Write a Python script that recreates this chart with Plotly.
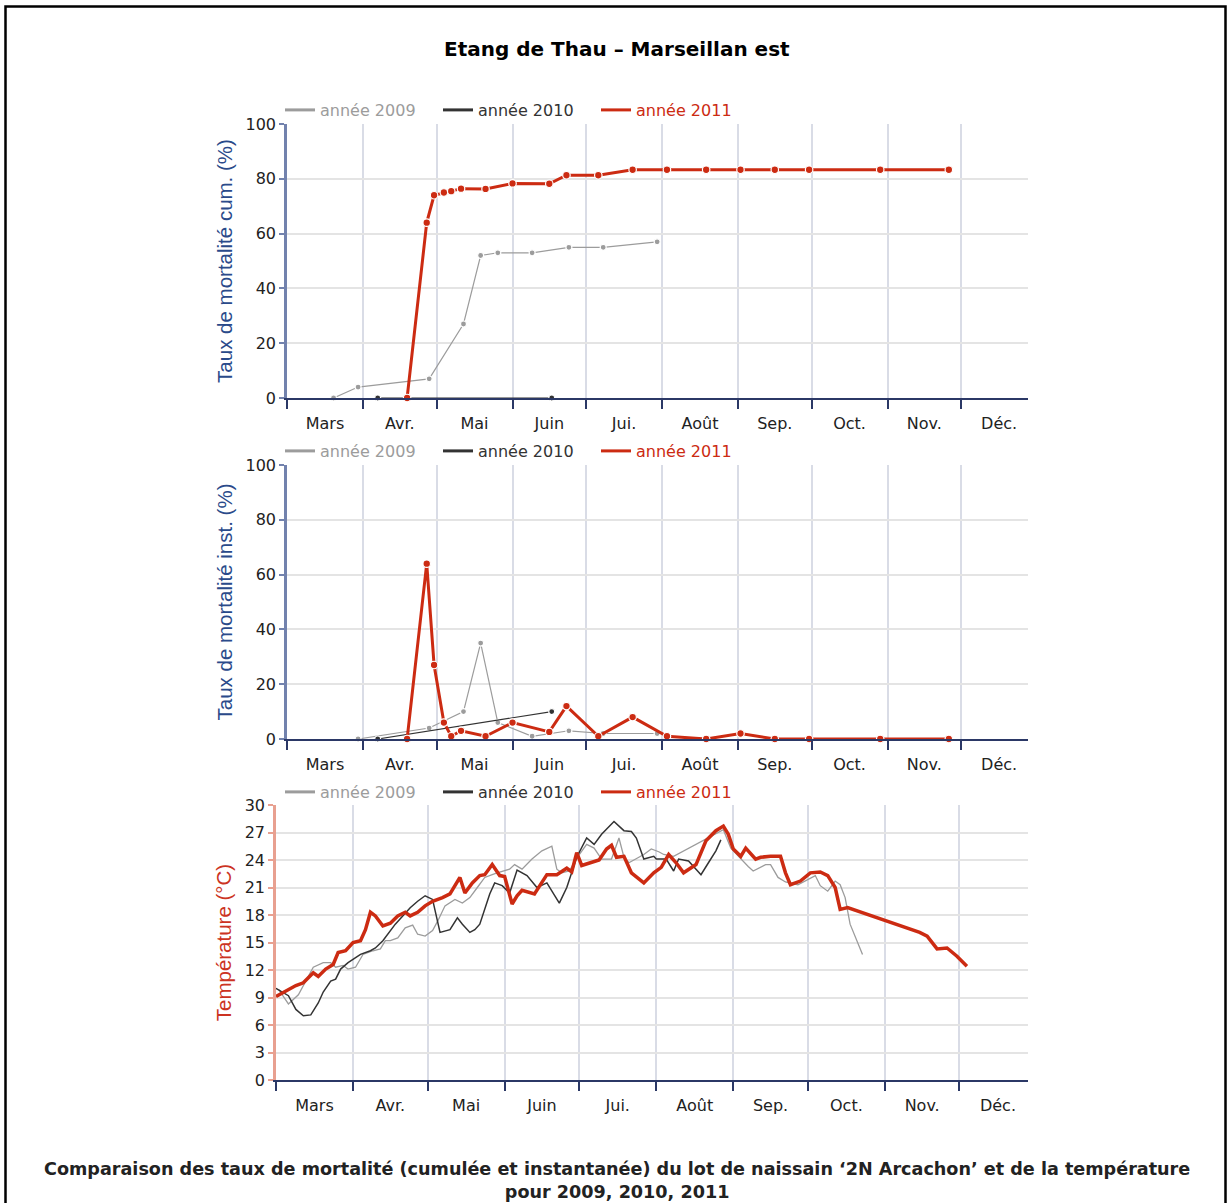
import plotly.graph_objects as go
import pandas as pd

W, H = 1227, 1203
YEAR = "2011"  # common reference year used to overlay the three seasons

MONTHS = ["Mars", "Avr.", "Mai", "Juin", "Jui.", "Août", "Sep.", "Oct.", "Nov.", "Déc."]

# ---- mortalité cumulée (%) ----
cum09_dates = ["03-20", "03-30", "04-28", "05-12", "05-19", "05-26", "06-09", "06-24", "07-08", "07-30"]
cum09_vals = [0, 4, 7, 27, 52, 53, 53, 55, 55, 57]
cum10_dates = ["04-07", "06-17"]
cum10_vals = [0, 0]
s11_dates = ["04-19", "04-27", "04-30", "05-04", "05-07", "05-11", "05-21", "06-01", "06-16", "06-23",
             "07-06", "07-20", "08-03", "08-19", "09-02", "09-16", "09-30", "10-29", "11-26"]
cum11_vals = [0, 64, 74, 75, 75.5, 76.4, 76.3, 78.3, 78.2, 81.3,
              81.3, 83.3, 83.3, 83.3, 83.3, 83.3, 83.3, 83.3, 83.3]

# ---- mortalité instantanée (%) ----
inst09_dates = ["03-30", "04-28", "05-12", "05-19", "05-26", "06-09", "06-24", "07-08", "07-30"]
inst09_vals = [0, 4, 10, 35, 6, 1, 3, 2, 2]
inst10_dates = ["04-07", "06-17"]
inst10_vals = [0, 10]
inst11_vals = [0, 64, 27, 6, 1, 3, 1, 6, 2.6, 12,
               1, 8, 1, 0, 2, 0, 0, 0, 0]

# ---- température (°C) ----
t09_dates = ["03-02", "03-06", "03-10", "03-16", "03-20", "03-23", "03-25", "03-28", "03-30", "04-02",
             "04-05", "04-09", "04-12", "04-14", "04-16", "04-19", "04-22", "04-25", "04-27", "04-30",
             "05-03", "05-05", "05-08", "05-12", "05-15", "05-18", "05-21", "05-24", "05-27", "05-29",
             "06-03", "06-05", "06-08", "06-12", "06-16", "06-20", "06-22", "06-24", "06-27", "06-30",
             "07-04", "07-07", "07-10", "07-14", "07-17", "07-19", "07-21", "07-27", "07-30", "08-02",
             "08-04", "08-08", "08-28", "08-31", "09-07", "09-09", "09-14", "09-16", "09-19", "09-22",
             "09-27", "10-04", "10-06", "10-09", "10-12", "10-14", "10-16", "10-18", "10-23"]
t09_vals = [9.9, 8.3, 9.3, 12.3, 12.8, 12.8, 12.3, 12.5, 12.1, 12.3,
            13.7, 14.1, 14.3, 15.2, 15.2, 15.5, 16.6, 16.9, 15.9, 15.7,
            16.3, 17.3, 19.0, 19.7, 19.3, 19.9, 21.0, 22.1, 22.4, 22.6,
            23.0, 23.5, 23.0, 24.1, 25.0, 25.5, 23.0, 22.6, 22.8, 24.2,
            25.7, 25.3, 24.1, 24.1, 26.4, 24.3, 23.7, 24.6, 25.2, 24.9,
            24.6, 24.4, 27.3, 25.3, 23.3, 22.8, 23.5, 23.5, 22.1, 21.6,
            21.3, 22.3, 21.2, 20.6, 21.7, 21.3, 19.9, 17.0, 13.7]

t10_dates = ["03-01", "03-03", "03-06", "03-09", "03-12", "03-15", "03-18", "03-20", "03-23", "03-25",
             "03-27", "03-30", "04-02", "04-04", "04-08", "04-10", "04-13", "04-15", "04-18", "04-21",
             "04-24", "04-27", "04-30", "05-03", "05-05", "05-06", "05-10", "05-13", "05-15", "05-18",
             "05-20", "05-22", "05-26", "05-28", "05-31", "06-03", "06-06", "06-10", "06-14", "06-18",
             "06-23", "06-26", "06-30", "07-04", "07-07", "07-10", "07-15", "07-19", "07-22", "07-24",
             "07-27", "07-31", "08-01", "08-05", "08-08", "08-10", "08-14", "08-17", "08-19", "08-22",
             "08-25", "08-27"]
t10_vals = [10.0, 9.7, 9.2, 7.7, 7.0, 7.1, 8.4, 9.6, 10.8, 11.0,
            12.1, 12.8, 13.3, 13.7, 14.1, 14.4, 15.2, 15.9, 17.0, 17.9,
            18.8, 19.5, 20.1, 19.7, 17.3, 16.1, 16.4, 17.7, 17.0, 16.1,
            16.4, 17.0, 20.3, 21.5, 21.2, 20.4, 22.9, 22.3, 21.0, 21.5,
            19.3, 21.0, 24.3, 26.4, 25.7, 26.8, 28.2, 27.2, 27.1, 26.4,
            24.1, 24.4, 24.1, 24.1, 22.8, 24.1, 23.9, 23.0, 22.4, 23.7,
            25.0, 26.2]

t11_dates = ["03-01", "03-06", "03-09", "03-12", "03-16", "03-18", "03-21", "03-24", "03-26", "03-29",
             "04-01", "04-04", "04-06", "04-08", "04-10", "04-13", "04-16", "04-19", "04-22", "04-24",
             "04-27", "04-30", "05-03", "05-07", "05-10", "05-14", "05-16", "05-19", "05-22", "05-24",
             "05-27", "05-30", "06-01", "06-04", "06-06", "06-08", "06-13", "06-18", "06-22", "06-26",
             "06-28", "06-30", "07-02", "07-09", "07-12", "07-14", "07-16", "07-19", "07-22", "07-27",
             "07-31", "08-03", "08-06", "08-09", "08-12", "08-17", "08-21", "08-25", "08-28", "08-30",
             "09-01", "09-04", "09-06", "09-10", "09-12", "09-16", "09-20", "09-22", "09-24", "09-28",
             "10-02", "10-06", "10-09", "10-12", "10-14", "10-17", "11-15", "11-18", "11-22", "11-26",
             "11-30", "12-04"]
t11_vals = [9.1, 9.9, 10.3, 10.6, 11.7, 11.3, 12.1, 12.6, 13.9, 14.1,
            15.0, 15.2, 16.4, 18.3, 17.9, 16.8, 17.1, 17.9, 18.3, 17.9,
            18.3, 19.0, 19.5, 19.9, 20.3, 22.1, 20.4, 21.5, 22.3, 22.4,
            23.5, 22.3, 22.2, 19.2, 20.1, 20.7, 20.3, 22.4, 22.4, 23.1,
            22.7, 24.8, 23.4, 24.0, 25.2, 25.6, 24.3, 24.4, 22.6, 21.5,
            22.6, 23.2, 24.6, 23.7, 22.6, 23.5, 26.1, 27.2, 27.7, 26.8,
            25.2, 24.4, 25.3, 24.1, 24.3, 24.4, 24.4, 22.6, 21.3, 21.7,
            22.6, 22.7, 22.3, 21.0, 18.6, 18.8, 16.1, 15.7, 14.3, 14.4,
            13.5, 12.4]

# ---- styles ----
C09, C10, C11 = "#9c9c9c", "#333333", "#cc2b12"
NAVY = "#2b3866"
FONT = "DejaVu Sans"


def d(md_list):
    return [f"{YEAR}-{md}" for md in md_list]


def px_x(px):
    return px / W


def px_y(py):
    return 1 - py / H


month_starts = pd.date_range(f"{YEAR}-03-01", periods=11, freq="MS")
month_mids = month_starts[:-1] + (month_starts[1:] - month_starts[:-1]) / 2

fig = go.Figure()


def add_mortality(xa, ya, series):
    for dates, vals, col, lw, ms in series:
        fig.add_trace(go.Scatter(
            x=d(dates), y=vals, xaxis=xa, yaxis=ya, mode="lines+markers",
            line=dict(color=col, width=lw),
            marker=dict(color=col, size=ms, line=dict(color="white", width=1.2)),
            cliponaxis=False, showlegend=False, hoverinfo="x+y"))


add_mortality("x", "y", [
    (cum09_dates, cum09_vals, C09, 1.2, 6),
    (cum10_dates, cum10_vals, C10, 1.2, 6),
    (s11_dates, cum11_vals, C11, 3, 7.5),
])
add_mortality("x2", "y2", [
    (inst09_dates, inst09_vals, C09, 1.2, 6),
    (inst10_dates, inst10_vals, C10, 1.2, 6),
    (s11_dates, inst11_vals, C11, 3, 7.5),
])
for dates, vals, col, lw in [(t09_dates, t09_vals, C09, 1.3),
                             (t10_dates, t10_vals, C10, 1.5),
                             (t11_dates, t11_vals, C11, 3.5)]:
    fig.add_trace(go.Scatter(x=d(dates), y=vals, xaxis="x3", yaxis="y3", mode="lines",
                             line=dict(color=col, width=lw), showlegend=False,
                             cliponaxis=False))

# legend entries (one legend per panel)
for leg, xa, ya in [("legend", "x", "y"), ("legend2", "x2", "y2"), ("legend3", "x3", "y3")]:
    for name, col in [("année 2009", C09), ("année 2010", C10), ("année 2011", C11)]:
        fig.add_trace(go.Scatter(
            x=[None], y=[None], xaxis=xa, yaxis=ya, mode="lines",
            line=dict(color=col, width=3),
            name=f'<span style="color:{col}">{name}</span>',
            legend=leg, showlegend=True))


def xaxis_cfg(x0, anchor, end):
    return dict(
        domain=[px_x(x0), px_x(1028)], anchor=anchor, type="date",
        range=[f"{YEAR}-03-01", end],
        tickmode="array", tickvals=list(month_mids), ticktext=MONTHS,
        ticks="", showgrid=False, ticklabelstandoff=10,
        tickfont=dict(family=FONT, size=16, color="#222222"),
        showline=True, linecolor=NAVY, linewidth=2, zeroline=False,
        minor=dict(dtick="M1", tick0=f"{YEAR}-03-01", ticks="outside", ticklen=9,
                   tickwidth=2, tickcolor=NAVY, showgrid=True,
                   gridcolor="#d9dce6", gridwidth=1.5),
        fixedrange=True)


def yaxis_cfg(top, bottom, anchor, rng, dtick, title, tcol, acol):
    return dict(
        domain=[px_y(bottom), px_y(top)], anchor=anchor, range=rng, dtick=dtick, tick0=0,
        ticks="outside", ticklen=5, tickwidth=1.5, tickcolor=acol,
        showline=True, linecolor=acol, linewidth=2.5,
        showgrid=True, gridcolor="#e4e4e4", gridwidth=1.5, zeroline=False,
        tickfont=dict(family=FONT, size=16, color="#222222"),
        title=dict(text=title, font=dict(family="Liberation Sans", size=20.5, color=tcol),
                   standoff=8),
        fixedrange=True)


def legend_cfg(py):
    return dict(orientation="h", x=px_x(280), y=px_y(py), xanchor="left", yanchor="middle",
                font=dict(family=FONT, size=16), bgcolor="rgba(0,0,0,0)",
                entrywidth=113, entrywidthmode="pixels",
                itemclick=False, itemdoubleclick=False)


fig.update_layout(
    width=W, height=H, margin=dict(l=0, r=0, t=0, b=0, autoexpand=False),
    paper_bgcolor="white", plot_bgcolor="white",
    xaxis=xaxis_cfg(287, "y", f"{YEAR}-12-28 07:00"),
    xaxis2=xaxis_cfg(287, "y2", f"{YEAR}-12-28 07:00"),
    xaxis3=xaxis_cfg(276, "y3", f"{YEAR}-12-28 14:00"),
    yaxis=yaxis_cfg(124, 398, "x", [0, 100], 20, "Taux de mortalité cum. (%)", "#2a4a8a", "#7282ad"),
    yaxis2=yaxis_cfg(465, 739, "x2", [0, 100], 20, "Taux de mortalité inst. (%)", "#2a4a8a", "#7282ad"),
    yaxis3=yaxis_cfg(805, 1080, "x3", [0, 30], 3, "Température (°C)", "#cc3322", "#e8a090"),
    legend=legend_cfg(110),
    legend2=legend_cfg(451),
    legend3=legend_cfg(792),
    showlegend=True,
    annotations=[
        dict(text="<b>Etang de Thau – Marseillan est</b>", xref="paper", yref="paper",
             x=px_x(617), y=px_y(49), xanchor="center", yanchor="middle", showarrow=False,
             font=dict(family="DejaVu Sans", size=20, color="#000000")),
        dict(text="<b>Comparaison des taux de mortalité (cumulée et instantanée) du lot de naissain "
                  "‘2N Arcachon’ et de la température<br>pour 2009, 2010, 2011</b>",
             xref="paper", yref="paper", x=px_x(617), y=px_y(1180), xanchor="center",
             yanchor="middle", showarrow=False, align="center",
             font=dict(family="DejaVu Sans", size=17.6, color="#222222")),
    ],
    shapes=[
        dict(type="rect", xref="paper", yref="paper", x0=px_x(5.5), x1=px_x(1225.5),
             y0=-0.05, y1=px_y(6.5), line=dict(color="black", width=2.5),
             fillcolor="rgba(0,0,0,0)", layer="above"),
    ],
)

fig.write_html("out.html",
               post_script="document.body.style.margin='0';document.body.style.overflow='hidden';")
